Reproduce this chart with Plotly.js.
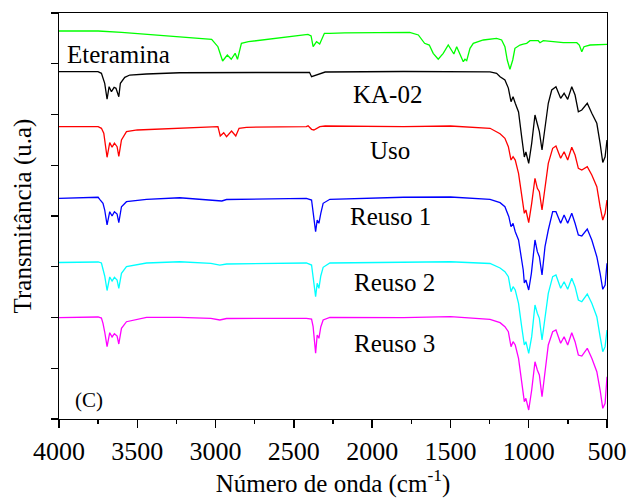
<!DOCTYPE html>
<html>
<head>
<meta charset="utf-8">
<script src="https://cdn.plot.ly/plotly-3.0.1.min.js"></script>
<style>
  html, body { margin: 0; padding: 0; background: #fff; }
  #chart { width: 629px; height: 500px; }
</style>
</head>
<body>
<div id="chart"></div>
<script>
// FTIR spectra (stacked, arbitrary transmittance units)

const eteraminaWn = [4000, 3750, 3600, 3390, 3220, 3025, 2985, 2955, 2925, 2900, 2875, 2860, 2835, 2790,
  2410, 2390, 2377, 2355, 2335, 2305, 2270, 2175, 1760, 1705, 1665, 1635, 1610, 1578, 1546, 1514, 1478,
  1460, 1418, 1407, 1396, 1375, 1354, 1290, 1205, 1173, 1152, 1137, 1120, 1102, 1088, 1056, 1035, 1013,
  992, 939, 928, 907, 779, 693, 677, 661, 647, 629, 608, 500];
const eteraminaT = [76.45, 76.45, 76.2, 75.67, 75.33, 74.82, 73.36, 70.54, 71.72, 70.88, 72.06, 70.88, 74.03, 74.35,
  75.8, 75.47, 73.36, 74.35, 73.89, 76.0, 76.0, 76.1, 76.2, 75.67, 74.03, 73.69, 72.06, 70.88, 72.06, 73.69, 71.92,
  73.36, 70.4, 70.88, 70.6, 73.04, 74.03, 74.68, 75.01, 74.68, 73.36, 70.74, 68.91, 70.74, 73.04, 73.69, 73.89, 74.03,
  74.54, 74.54, 74.15, 74.54, 74.15, 74.15, 73.69, 72.37, 73.36, 73.5, 73.69, 73.83];

const ka02Wn = [4000, 3751, 3729, 3708, 3693, 3680, 3665, 3648, 3636, 3618, 3608, 3580, 3548, 3442, 3229,
  2400, 2387, 2372, 2355, 2334, 2300, 1800, 1247, 1205, 1183, 1152, 1130, 1113, 1100, 1086, 1065, 1045,
  1028, 1018, 1000, 981, 960, 945, 932, 915, 896, 875, 853, 826, 796, 774, 751, 725, 704, 683, 661, 626,
  597, 565, 544, 527, 512, 500];
const ka02T = [68.43, 68.43, 68.11, 66.15, 63.0, 65.48, 64.49, 65.36, 65.16, 63.51, 66.15, 67.33, 67.78, 67.98, 68.23,
  68.31, 67.45, 67.6, 67.78, 68.11, 68.37, 68.47, 68.4, 68.11, 67.45, 66.8, 65.2, 62.52, 63.51, 62.21, 60.5, 55.6,
  51.63, 52.61, 50.38, 54.32, 59.9, 58.13, 56.61, 53.0, 57.59, 62.21, 64.83, 65.48, 63.19, 64.18, 62.99, 65.48, 63.84,
  60.55, 60.89, 62.21, 60.24, 58.27, 54.32, 50.54, 51.68, 54.98];

const usoWn = [4000, 3750, 3729, 3714, 3693, 3676, 3661, 3646, 3629, 3618, 3601, 3569, 3500, 3229, 3030, 2985,
  2970, 2948, 2930, 2898, 2871, 2850, 2803, 2420, 2409, 2387, 2372, 2355, 2334, 2300, 1800, 1500, 1247,
  1183, 1152, 1130, 1113, 1100, 1086, 1065, 1045, 1028, 1018, 1000, 981, 960, 945, 932, 915, 896, 875,
  847, 826, 796, 774, 751, 725, 704, 683, 661, 626, 597, 565, 544, 527, 512, 500];
const usoT = [57.6, 57.6, 57.28, 56.3, 51.57, 54.46, 53.56, 54.34, 53.65, 51.76, 54.98, 56.61, 56.95, 57.28, 57.48, 57.6,
  55.76, 56.41, 55.62, 56.75, 55.76, 57.28, 57.48, 57.6, 57.79, 57.08, 56.95, 57.28, 57.6, 57.73, 57.6, 57.73, 57.28,
  56.2, 55.31, 53.66, 51.03, 51.68, 51.03, 48.41, 44.47, 40.53, 41.18, 38.68, 42.5, 47.43, 45.46, 44.79, 41.18, 45.12, 50.38,
  53.34, 53.79, 51.37, 52.67, 51.03, 53.54, 52.02, 49.4, 49.06, 49.71, 48.08, 45.77, 41.83, 39.21, 40.53, 43.15];

const reuso1Wn = [4000, 3750, 3740, 3719, 3708, 3693, 3676, 3661, 3646, 3629, 3618, 3601, 3569, 3441, 3229,
  2990, 2960, 2930, 2420, 2387, 2377, 2361, 2351, 2340, 2328, 2313, 2270, 1800, 1500, 1247, 1183, 1152,
  1127, 1113, 1100, 1086, 1065, 1051, 1035, 1028, 1018, 1000, 983, 960, 945, 932, 915, 896, 875, 847, 826,
  796, 774, 751, 725, 704, 683, 661, 626, 597, 565, 544, 527, 512, 500];
const reuso1T = [43.49, 43.69, 43.29, 42.5, 41.18, 38.23, 40.85, 40.0, 40.85, 40.39, 38.68, 41.83, 42.82, 43.29, 43.6,
  43.15, 42.96, 43.25, 43.49, 43.15, 40.53, 36.91, 39.21, 38.56, 40.53, 42.5, 43.29, 43.69, 43.74, 43.29, 42.62, 41.83,
  39.86, 37.89, 38.56, 36.91, 35.27, 32.65, 29.36, 26.8, 27.39, 25.42, 28.71, 35.27, 32.97, 31.98, 28.37, 33.95, 37.24, 40.85, 40.85,
  38.56, 40.2, 38.56, 40.53, 38.56, 36.26, 36.06, 37.44, 35.27, 31.98, 28.71, 25.56, 26.4, 30.68];

const reuso2Wn = [4000, 3750, 3729, 3719, 3708, 3693, 3676, 3661, 3646, 3629, 3618, 3601, 3569, 3441, 3229,
  3030, 2973, 2930, 2420, 2387, 2377, 2361, 2351, 2340, 2328, 2313, 2270, 1800, 1500, 1247, 1183, 1152,
  1130, 1113, 1100, 1086, 1065, 1045, 1028, 1018, 1000, 981, 960, 945, 932, 915, 896, 875, 847, 826,
  796, 774, 751, 725, 704, 683, 661, 626, 597, 565, 544, 527, 512, 500];
const reuso2T = [30.84, 30.94, 30.74, 29.69, 28.18, 25.32, 27.98, 27.19, 27.92, 27.39, 25.75, 28.71, 30.05, 30.74, 30.99,
  30.68, 30.34, 30.54, 30.74, 30.34, 28.04, 24.1, 26.74, 25.75, 28.18, 29.89, 30.74, 30.94, 30.99, 30.64, 29.75, 29.02,
  28.04, 25.08, 26.07, 25.42, 22.8, 18.19, 14.58, 15.23, 12.95, 16.22, 22.46, 20.83, 19.84, 15.57, 20.16, 24.77, 28.04, 28.37,
  25.75, 27.05, 25.56, 27.72, 26.07, 23.45, 23.11, 24.63, 22.8, 20.16, 16.22, 13.26, 14.25, 17.54];

const reuso3Wn = [4000, 3750, 3729, 3719, 3708, 3693, 3676, 3661, 3646, 3629, 3618, 3601, 3569, 3441, 3229,
  3030, 2973, 2930, 2420, 2387, 2377, 2361, 2351, 2340, 2328, 2313, 2270, 1800, 1500, 1247, 1183, 1152,
  1130, 1113, 1100, 1086, 1065, 1045, 1028, 1018, 1000, 981, 960, 945, 932, 915, 896, 875, 847, 826,
  796, 774, 751, 725, 704, 683, 661, 626, 597, 565, 544, 527, 512, 500];
const reuso3T = [19.96, 20.1, 19.9, 18.86, 17.14, 14.25, 17.0, 16.16, 16.81, 16.35, 14.78, 17.87, 19.17, 20.04, 20.04,
  19.84, 19.51, 19.8, 19.84, 19.7, 18.19, 12.95, 16.55, 15.9, 18.13, 19.51, 20.04, 19.96, 20.16, 19.65, 18.98, 18.19,
  17.2, 14.25, 15.23, 14.58, 11.96, 7.68, 3.41, 4.08, 1.77, 5.71, 11.29, 9.66, 8.67, 4.39, 9.66, 14.58, 17.2, 17.54,
  14.92, 16.22, 14.58, 17.0, 15.23, 12.61, 12.41, 13.93, 11.96, 9.32, 5.71, 2.11, 3.09, 8.33];

const seriesNames = ["Eteramina", "KA-02", "Uso", "Reuso 1", "Reuso 2", "Reuso 3"];
const seriesColors = ["#00ff00", "#000000", "#ff0000", "#0000ff", "#00ffff", "#ff00ff"];
const seriesX = [eteraminaWn, ka02Wn, usoWn, reuso1Wn, reuso2Wn, reuso3Wn];
const seriesY = [eteraminaT, ka02T, usoT, reuso1T, reuso2T, reuso3T];

// label anchor points (wavenumber, transmittance)
const labelX = [3618, 1899, 1887, 1880, 1855, 1855];
const labelY = [71.9, 64.0, 53.0, 40.0, 26.8, 14.8];

const serif = "Liberation Serif";

const traces = seriesNames.map((name, i) => ({
  type: "scatter",
  mode: "lines",
  name: name,
  x: seriesX[i],
  y: seriesY[i],
  line: { color: seriesColors[i], width: 1.3 },
  hoverinfo: "skip"
}));

const annotations = seriesNames.map((name, i) => ({
  x: labelX[i], y: labelY[i], xref: "x", yref: "y",
  text: name, showarrow: false,
  font: { family: serif, size: 25, color: "#000000" },
  xanchor: "center", yanchor: "middle"
}));
annotations.push({
  x: 3807, y: 3.7, xref: "x", yref: "y",
  text: "(C)", showarrow: false,
  font: { family: serif, size: 21, color: "#000000" },
  xanchor: "center", yanchor: "middle"
});

const layout = {
  width: 629,
  height: 500,
  margin: { l: 59, r: 22, t: 13, b: 81 },
  paper_bgcolor: "#ffffff",
  plot_bgcolor: "#ffffff",
  showlegend: false,
  font: { family: serif, color: "#000000" },
  xaxis: {
    range: [4000, 500],
    tickmode: "linear", tick0: 500, dtick: 500,
    ticks: "outside", ticklen: 8, tickwidth: 1.3, tickcolor: "#000000",
    minor: { dtick: 250, ticks: "outside", ticklen: 4, tickwidth: 1.3, tickcolor: "#000000", showgrid: false },
    showgrid: false, zeroline: false,
    showline: true, linecolor: "#000000", linewidth: 1.3, mirror: true,
    tickfont: { family: serif, size: 26, color: "#000000" },
    title: { text: "Número de onda (cm<sup>-1</sup>)", font: { family: serif, size: 25, color: "#000000" }, standoff: 8 }
  },
  yaxis: {
    range: [0, 80],
    tickmode: "linear", tick0: 0, dtick: 10,
    ticks: "outside", ticklen: 7, tickwidth: 1.3, tickcolor: "#000000",
    showticklabels: false,
    showgrid: false, zeroline: false,
    showline: true, linecolor: "#000000", linewidth: 1.3, mirror: true,
    title: { text: "Transmitância (u.a)", font: { family: serif, size: 25, color: "#000000" }, standoff: 12 }
  },
  annotations: annotations
};

Plotly.newPlot("chart", traces, layout, { displayModeBar: false, staticPlot: true });
</script>
</body>
</html>
